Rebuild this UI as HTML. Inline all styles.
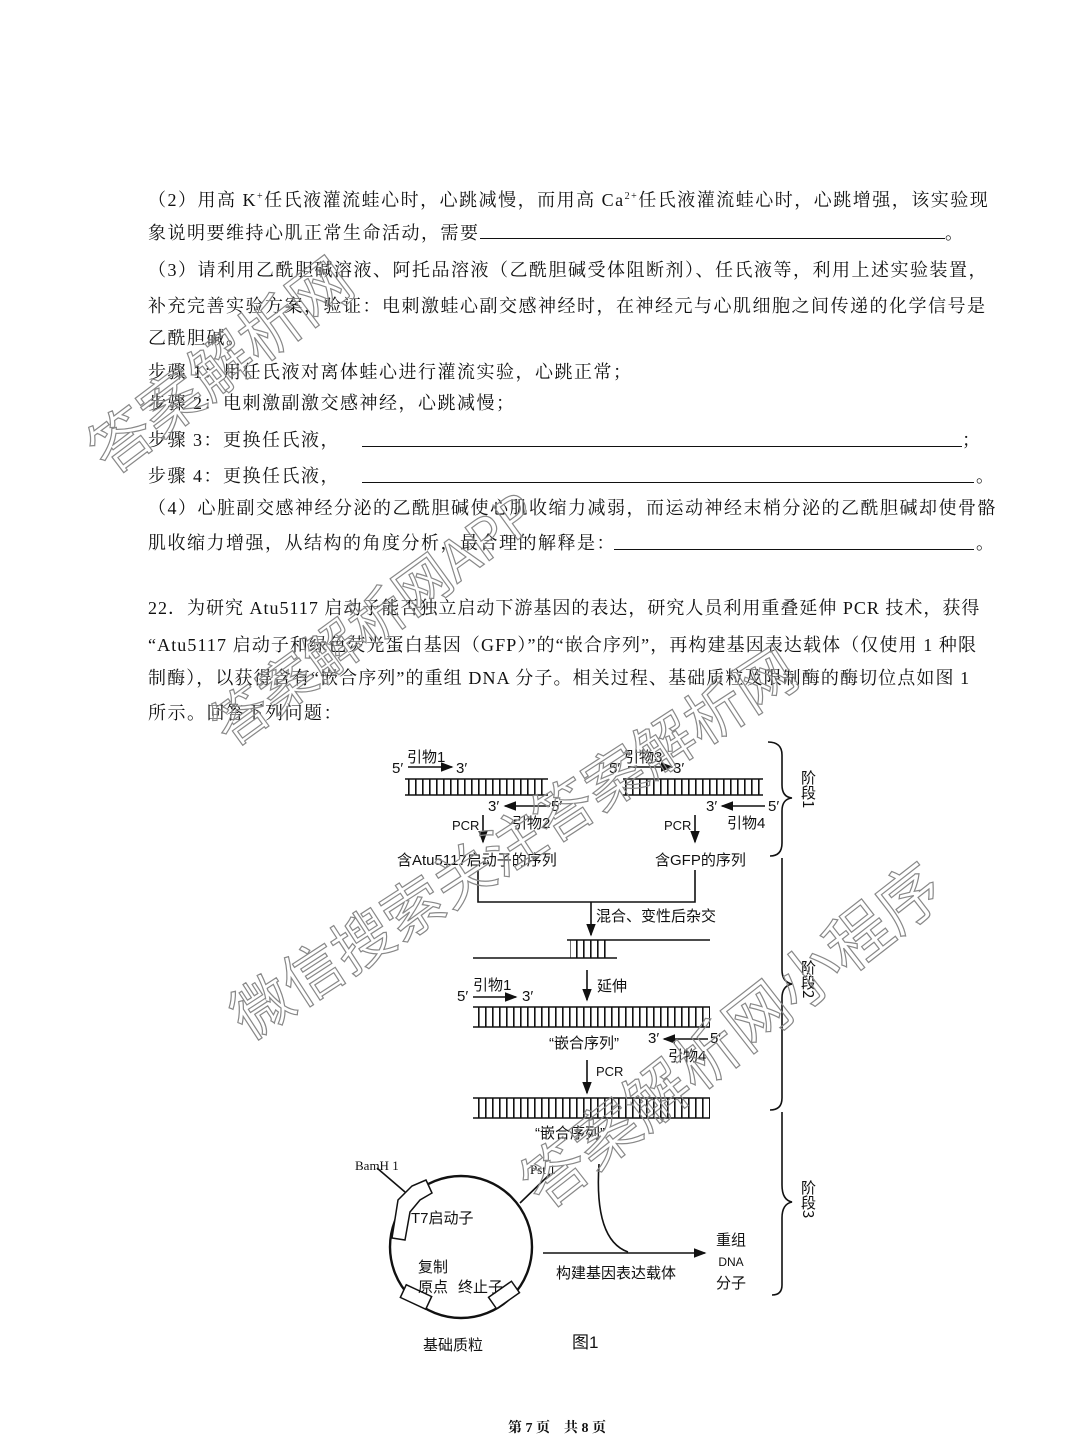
<!DOCTYPE html>
<html><head><meta charset="utf-8">
<style>
body{margin:0;background:#fff;}
#p{position:relative;width:1080px;height:1453px;overflow:hidden;background:#fff;font-family:"Liberation Serif","Noto Serif CJK SC","Noto Sans CJK SC",serif;color:#111;}
.t{position:absolute;font-size:18px;white-space:nowrap;line-height:22px;letter-spacing:1.5px;}
.ul{position:absolute;height:0;border-top:1.5px solid #111;}
.wm{position:absolute;font-family:"Noto Sans CJK SC",sans-serif;color:transparent;-webkit-text-stroke:1.2px #888;white-space:nowrap;transform-origin:left center;line-height:1;}
.d{position:absolute;font-size:15px;white-space:nowrap;font-family:"Liberation Sans","Noto Sans CJK SC",sans-serif;}
.v{position:absolute;font-size:15px;font-family:"Noto Sans CJK SC",sans-serif;writing-mode:vertical-rl;white-space:nowrap;}
</style></head><body><div id="p">
<div class="t" style="left:148px;top:186px">（2）用高 K<sup style="font-size:10px">+</sup>任氏液灌流蛙心时，心跳减慢，而用高 Ca<sup style="font-size:10px">2+</sup>任氏液灌流蛙心时，心跳增强，该实验现</div>
<div class="t" style="left:148px;top:222px">象说明要维持心肌正常生命活动，需要</div>
<div class="ul" style="left:480px;top:238px;width:465px"></div><div class="t" style="left:945px;top:222px">。</div>
<div class="t" style="left:148px;top:259px">（3）请利用乙酰胆碱溶液、阿托品溶液（乙酰胆碱受体阻断剂）、任氏液等，利用上述实验装置，</div>
<div class="t" style="left:148px;top:295px">补充完善实验方案，验证：电刺激蛙心副交感神经时，在神经元与心肌细胞之间传递的化学信号是</div>
<div class="t" style="left:148px;top:327px">乙酰胆碱。</div>
<div class="t" style="left:148px;top:361px">步骤 1：用任氏液对离体蛙心进行灌流实验，心跳正常；</div>
<div class="t" style="left:148px;top:392px">步骤 2：电刺激副激交感神经，心跳减慢；</div>
<div class="t" style="left:148px;top:429px">步骤 3：更换任氏液，</div>
<div class="ul" style="left:362px;top:446px;width:600px"></div><div class="t" style="left:962px;top:429px">；</div>
<div class="t" style="left:148px;top:465px">步骤 4：更换任氏液，</div>
<div class="ul" style="left:362px;top:482px;width:612px"></div><div class="t" style="left:976px;top:465px">。</div>
<div class="t" style="left:148px;top:497px">（4）心脏副交感神经分泌的乙酰胆碱使心肌收缩力减弱，而运动神经末梢分泌的乙酰胆碱却使骨骼</div>
<div class="t" style="left:148px;top:532px">肌收缩力增强，从结构的角度分析，最合理的解释是：</div>
<div class="ul" style="left:614px;top:549px;width:360px"></div><div class="t" style="left:976px;top:532px">。</div>
<div class="t" style="left:148px;top:597px;letter-spacing:1px">22．为研究 Atu5117 启动子能否独立启动下游基因的表达，研究人员利用重叠延伸 PCR 技术，获得</div>
<div class="t" style="left:148px;top:634px;letter-spacing:1.1px">“Atu5117 启动子和绿色荧光蛋白基因（GFP）”的“嵌合序列”，再构建基因表达载体（仅使用 1 种限</div>
<div class="t" style="left:148px;top:667px;letter-spacing:1.1px">制酶），以获得含有“嵌合序列”的重组 DNA 分子。相关过程、基础质粒及限制酶的酶切位点如图 1</div>
<div class="t" style="left:148px;top:702px">所示。回答下列问题：</div>

<svg style="position:absolute;left:0;top:0" width="1080" height="1453">
<defs>
<pattern id="r" width="7" height="40" patternUnits="userSpaceOnUse"><rect x="2" y="0" width="1.6" height="40" fill="#111"/></pattern>
<marker id="a" markerWidth="8" markerHeight="8" refX="7" refY="4" orient="auto"><path d="M0,1 L8,4 L0,7z" fill="#111"/></marker>
</defs>
<g stroke="#111" stroke-width="1.6" fill="none">
<line x1="405" y1="779" x2="548" y2="779"/><line x1="405" y1="795" x2="548" y2="795"/>
<line x1="623" y1="779" x2="763" y2="779"/><line x1="623" y1="795" x2="763" y2="795"/>
<line x1="567" y1="940" x2="710" y2="940"/><line x1="473" y1="958" x2="617" y2="958"/>
<line x1="473" y1="1007" x2="710" y2="1007"/><line x1="473" y1="1027" x2="710" y2="1027"/>
<line x1="473" y1="1098" x2="710" y2="1098"/><line x1="473" y1="1118" x2="710" y2="1118"/>
<line x1="408" y1="767" x2="452" y2="767" marker-end="url(#a)"/>
<line x1="628" y1="767" x2="672" y2="767" marker-end="url(#a)"/>
<line x1="550" y1="806" x2="505" y2="806" marker-end="url(#a)"/>
<line x1="765" y1="806" x2="722" y2="806" marker-end="url(#a)"/>
<line x1="473" y1="997" x2="516" y2="997" marker-end="url(#a)"/>
<line x1="708" y1="1039" x2="664" y2="1039" marker-end="url(#a)"/>
<line x1="483" y1="815" x2="483" y2="842" marker-end="url(#a)"/>
<line x1="695" y1="815" x2="695" y2="842" marker-end="url(#a)"/>
<polyline points="478,870 478,902 695,902 695,870"/>
<line x1="591" y1="902" x2="591" y2="935" marker-end="url(#a)"/>
<line x1="587" y1="970" x2="587" y2="1000" marker-end="url(#a)"/>
<line x1="587" y1="1060" x2="587" y2="1093" marker-end="url(#a)"/>
<path d="M768,742 Q782,742 782,755 L782,785 Q782,797 792,798 Q782,799 782,811 L782,843 Q782,856 770,856"/>
<path d="M782,858 Q782,870 782,880 L782,970 Q782,982 792,984 Q782,986 782,998 L782,1098 Q782,1110 770,1110"/>
<path d="M782,1112 L782,1185 Q782,1200 792,1202 Q782,1204 782,1218 L782,1285 Q782,1295 772,1295"/>
<circle cx="461" cy="1247" r="71" stroke-width="2.4"/>
<line x1="377" y1="1168" x2="405" y2="1192"/>
<line x1="520" y1="1203" x2="550" y2="1174"/>
<path d="M599,1164 Q594,1240 628,1252"/>
<line x1="543" y1="1253" x2="705" y2="1253" marker-end="url(#a)"/>
</g>
<rect x="405" y="779" width="143" height="16" fill="url(#r)"/>
<rect x="623" y="779" width="140" height="16" fill="url(#r)"/>
<rect x="570" y="940" width="38" height="18" fill="url(#r)"/>
<rect x="473" y="1007" width="237" height="20" fill="url(#r)"/>
<rect x="473" y="1098" width="237" height="20" fill="url(#r)"/>
<g fill="#fff" stroke="#111" stroke-width="1.5">
<path d="M392,1238 L398,1200 L412,1186 L426,1180 L432,1193 L420,1200 L410,1212 L405,1240z"/>
<rect x="402" y="1290" width="28" height="14" transform="rotate(25 416 1297)"/>
<rect x="490" y="1288" width="28" height="14" transform="rotate(-35 504 1295)"/>
</g>
</svg>
<div class="d" style="left:392px;top:760px">5′</div><div class="d" style="left:407px;top:746px">引物1</div><div class="d" style="left:456px;top:760px">3′</div>
<div class="d" style="left:609px;top:760px">5′</div><div class="d" style="left:624px;top:746px">引物3</div><div class="d" style="left:673px;top:760px">3′</div>
<div class="d" style="left:488px;top:798px">3′</div><div class="d" style="left:551px;top:798px">5′</div><div class="d" style="left:512px;top:812px">引物2</div>
<div class="d" style="left:706px;top:798px">3′</div><div class="d" style="left:768px;top:798px">5′</div><div class="d" style="left:727px;top:812px">引物4</div>
<div class="d" style="left:452px;top:818px;font-size:13px">PCR</div><div class="d" style="left:664px;top:818px;font-size:13px">PCR</div>
<div class="d" style="left:397px;top:849px">含Atu5117启动子的序列</div><div class="d" style="left:655px;top:849px">含GFP的序列</div>
<div class="d" style="left:596px;top:905px">混合、变性后杂交</div>
<div class="d" style="left:457px;top:988px">5′</div><div class="d" style="left:473px;top:974px">引物1</div><div class="d" style="left:522px;top:988px">3′</div>
<div class="d" style="left:597px;top:975px">延伸</div>
<div class="d" style="left:549px;top:1032px">“嵌合序列”</div><div class="d" style="left:648px;top:1030px">3′</div><div class="d" style="left:710px;top:1030px">5′</div><div class="d" style="left:668px;top:1045px">引物4</div>
<div class="d" style="left:596px;top:1064px;font-size:13px">PCR</div>
<div class="d" style="left:535px;top:1122px">“嵌合序列”</div>
<div class="d" style="left:355px;top:1158px;font-size:13px;font-family:'Liberation Serif',serif">BamH 1</div>
<div class="d" style="left:530px;top:1162px;font-size:13px;font-family:'Liberation Serif',serif">Pst 1</div>
<div class="d" style="left:411px;top:1207px">T7启动子</div>
<div class="d" style="left:418px;top:1258px;line-height:20px">复制<br>原点</div>
<div class="d" style="left:458px;top:1276px">终止子</div>
<div class="d" style="left:423px;top:1334px">基础质粒</div>
<div class="d" style="left:556px;top:1262px">构建基因表达载体</div>
<div class="d" style="left:716px;top:1230px;line-height:21px;text-align:center">重组<br><span style="font-size:12px">DNA</span><br>分子</div>
<div class="d" style="left:572px;top:1328px;font-size:17px">图1</div>
<div class="v" style="left:798px;top:770px">阶段1</div>
<div class="v" style="left:798px;top:960px">阶段2</div>
<div class="v" style="left:798px;top:1180px">阶段3</div>
<div class="t" style="left:508px;top:1418px;font-size:14px;font-weight:bold;letter-spacing:0">第 7 页　共 8 页</div>

<div class="wm" style="left:94px;top:424px;font-size:62px;transform:rotate(-37deg)">答案解析网</div>
<div class="wm" style="left:217px;top:702px;font-size:56px;transform:rotate(-36deg)">答案解析网APP</div>
<div class="wm" style="left:235px;top:990px;font-size:60px;transform:rotate(-33deg)">微信搜索关注答案解析网</div>
<div class="wm" style="left:528px;top:1158px;font-size:64px;transform:rotate(-38deg)">答案解析网小程序</div>
</div></body></html>
